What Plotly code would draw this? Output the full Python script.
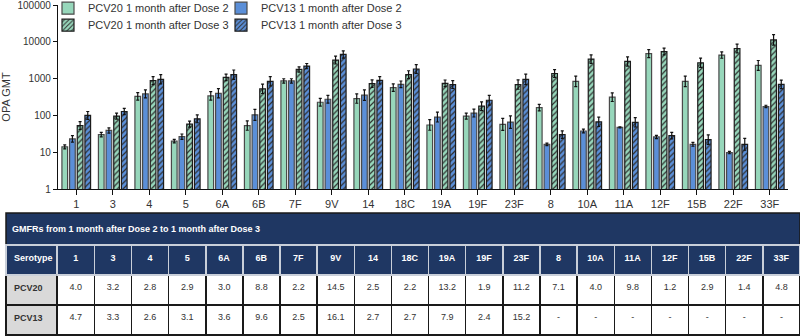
import plotly.graph_objects as go

serotypes = ["1", "3", "4", "5", "6A", "6B", "7F", "9V", "14", "18C",
             "19A", "19F", "23F", "8", "10A", "11A", "12F", "15B", "22F", "33F"]

pcv20_d2 = [14, 30, 330, 20, 340, 53, 865, 228, 287, 571, 55, 96, 57, 163, 847, 313, 4800, 847, 4370, 2290]
pcv13_d2 = [23, 39, 385, 26.5, 400, 104, 865, 275, 355, 702, 90, 116, 66, 16.4, 37.7, 47.4, 26, 16.4, 9.8, 175]
pcv20_d3 = [53, 96, 883, 58, 1084, 528, 1780, 3200, 733, 1282, 746, 178, 690, 1380, 3400, 2930, 5460, 2700, 6600, 11300]
pcv13_d3 = [100, 128, 960, 81, 1280, 846, 2190, 4540, 901, 1830, 690, 259, 960, 30, 67, 65, 28.3, 22, 16.4, 700]

# multiplicative 95% CI factors (upper = GMT*f, lower = GMT/f)
ci_pcv20_d2 = [1.13, 1.15, 1.26, 1.11, 1.31, 1.34, 1.15, 1.28, 1.34, 1.26, 1.39, 1.21, 1.45, 1.23, 1.39, 1.31, 1.28, 1.39, 1.22, 1.36]
ci_pcv13_d2 = [1.23, 1.18, 1.28, 1.18, 1.34, 1.41, 1.15, 1.27, 1.39, 1.23, 1.36, 1.28, 1.48, 1.08, 1.13, 1.04, 1.11, 1.13, 1.08, 1.08]
ci_pcv20_d3 = [1.28, 1.21, 1.28, 1.21, 1.23, 1.34, 1.18, 1.28, 1.26, 1.28, 1.23, 1.31, 1.34, 1.28, 1.31, 1.34, 1.23, 1.34, 1.31, 1.39]
ci_pcv13_d3 = [1.28, 1.21, 1.34, 1.28, 1.34, 1.34, 1.18, 1.26, 1.26, 1.31, 1.28, 1.36, 1.39, 1.26, 1.34, 1.34, 1.23, 1.34, 1.45, 1.31]

gmfr_pcv20 = ["4.0", "3.2", "2.8", "2.9", "3.0", "8.8", "2.2", "14.5", "2.5", "2.2",
              "13.2", "1.9", "11.2", "7.1", "4.0", "9.8", "1.2", "2.9", "1.4", "4.8"]
gmfr_pcv13 = ["4.7", "3.3", "2.6", "3.1", "3.6", "9.6", "2.5", "16.1", "2.7", "2.7",
              "7.9", "2.4", "15.2", "-", "-", "-", "-", "-", "-", "-"]

y_ticks = [1, 10, 100, 1000, 10000, 100000]

GREEN = "#97d7bb"
BLUE = "#5b8fd8"
NAVY = "#1f3763"
FONT = "Arial, Liberation Sans, Helvetica, sans-serif"

W, H = 800, 336
ML, MR, MT, MB = 6, 0, 5, 0
PW, PH = W - ML - MR, H - MT - MB


def px_x(x):
    return (x - ML) / PW


def px_y(y):
    return (H - MB - y) / PH


series = [
    ("PCV20 1 month after Dose 2", pcv20_d2, ci_pcv20_d2, GREEN, False, "legend"),
    ("PCV13 1 month after Dose 2", pcv13_d2, ci_pcv13_d2, BLUE, False, "legend2"),
    ("PCV20 1 month after Dose 3", pcv20_d3, ci_pcv20_d3, GREEN, True, "legend3"),
    ("PCV13 1 month after Dose 3", pcv13_d3, ci_pcv13_d3, BLUE, True, "legend4"),
]

fig = go.Figure()
for name, vals, ci, color, hatched, lg in series:
    up = [v * f - v for v, f in zip(vals, ci)]
    dn = [v - v / f for v, f in zip(vals, ci)]
    marker = dict(color=color,
                  line=dict(color="#1c1c1c" if hatched else "#4a4a4a", width=1.2))
    if hatched:
        marker["pattern"] = dict(shape="/", fgcolor="#2f2f2f", bgcolor=color,
                                 size=4, solidity=0.3, fillmode="replace")
    fig.add_trace(go.Bar(
        x=serotypes, y=vals, name=name, marker=marker, legend=lg, showlegend=True,
        error_y=dict(type="data", array=up, arrayminus=dn, symmetric=False,
                     color="#111111", thickness=1.2, width=1.5),
    ))


def leg(xpx, center_px):
    return dict(x=px_x(xpx), y=px_y(center_px - 11.3), xanchor="left", yanchor="top",
                bgcolor="rgba(0,0,0,0)", font=dict(size=11, color="#333333"),
                itemwidth=30, visible=True)


fig.update_layout(
    width=W, height=H, showlegend=True,
    margin=dict(l=ML, r=MR, t=MT, b=MB, autoexpand=False),
    plot_bgcolor="white", paper_bgcolor="white",
    font=dict(family=FONT, size=11, color="#222222"),
    barmode="group", bargap=0.16, bargroupgap=0.26,
    legend=leg(48, 5), legend2=leg(221, 5), legend3=leg(48, 22), legend4=leg(221, 22),
    xaxis=dict(domain=[px_x(58), px_x(788)], type="category",
               showline=True, linecolor="#111111", linewidth=1.3,
               ticks="outside", ticklen=5, tickcolor="#111111", tickwidth=1.2,
               tickfont=dict(size=11, color="#333333"), anchor="y"),
    yaxis=dict(domain=[px_y(189), 1], type="log", range=[0, 5.002],
               tickvals=y_ticks, ticktext=[str(t) for t in y_ticks],
               ticklabeloverflow="allow",
               showline=True, linecolor="#111111", linewidth=1.3,
               ticks="outside", ticklen=4, tickcolor="#111111", tickwidth=1.2,
               showgrid=False, zeroline=False,
               tickfont=dict(size=10, color="#333333"),
               title=dict(text="OPA GMT", font=dict(size=11, color="#333333"), standoff=6)),
)

# title bar of the GMFR table
fig.add_shape(type="rect", xref="paper", yref="paper",
              x0=0, x1=1, y0=px_y(245), y1=px_y(213),
              fillcolor=NAVY, line=dict(color="#1a1a1a", width=1.5), layer="below")
fig.add_annotation(xref="paper", yref="paper", x=px_x(10), y=px_y(229),
                   xanchor="left", yanchor="middle", showarrow=False,
                   text="<b>GMFRs from 1 month after Dose 2 to 1 month after Dose 3</b>",
                   font=dict(size=9, color="white", family=FONT))

ncol = len(serotypes)
fig.add_trace(go.Table(
    domain=dict(x=[0, 1], y=[0, px_y(245)]),
    columnwidth=[51] + [37] * ncol,
    header=dict(values=["<b>Serotype</b>"] + ["<b>%s</b>" % s for s in serotypes],
                fill_color=NAVY, line=dict(color="#c9cfd9", width=1.5),
                font=dict(size=9, color="white", family=FONT),
                align=["left"] + ["center"] * ncol, height=30),
    cells=dict(values=[["<b>PCV20</b>", "<b>PCV13</b>"]] +
               [[a, b] for a, b in zip(gmfr_pcv20, gmfr_pcv13)],
               fill_color=[["#d9d9d9", "#d9d9d9"]] + [["white", "white"]] * ncol,
               line=dict(color="#1a1a1a", width=1.5),
               font=dict(size=9, color="#333333", family=FONT),
               align=["left"] + ["center"] * ncol, height=30),
))

fig.write_html("out.html", config={"displayModeBar": False},
               post_script="document.body.style.margin='0';document.body.style.overflow='hidden';")
